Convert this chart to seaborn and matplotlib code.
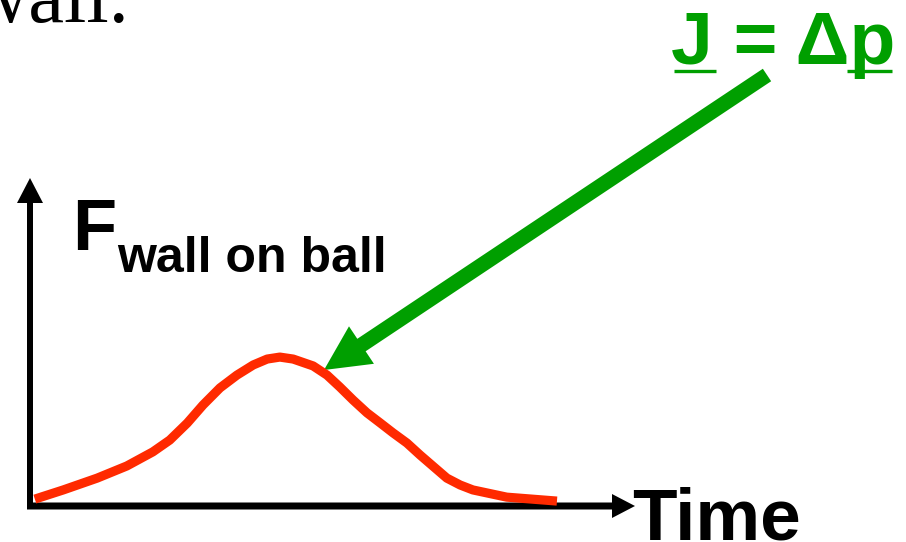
import matplotlib
matplotlib.use('Agg')
import matplotlib.pyplot as plt
import seaborn as sns

# impulse sketch: force of wall on ball over time
time = [0.08, 0.55, 1.11, 1.60, 2.03, 2.31, 2.60, 2.86, 3.14, 3.42, 3.69,
        3.92, 4.13, 4.35, 4.68, 4.91, 5.12, 5.34, 5.57, 5.79, 6.00, 6.23,
        6.45, 6.89, 7.11, 7.32, 7.88, 8.71]
force = [0.21, 0.49, 0.85, 1.22, 1.65, 2.01, 2.53, 3.08, 3.60, 3.99, 4.30,
         4.48, 4.54, 4.48, 4.27, 3.99, 3.63, 3.23, 2.84, 2.53, 2.23, 1.92,
         1.55, 0.85, 0.64, 0.49, 0.27, 0.15]

x_label = 'Time'
y_main = 'F'
y_sub = 'wall on ball'
impulse_label = 'J = \u0394p'
slide_text = 'wall.'

sns.set_style('white')
plt.rcParams['font.family'] = ['Liberation Sans', 'DejaVu Sans']
plt.rcParams['text.color'] = 'black'

green = '#009f00'
red = '#ff2a00'

fig = plt.figure(figsize=(9.06, 5.42), dpi=100)

# overlay in pixel units for the annotation bits
ov = fig.add_axes([0, 0, 1, 1])
ov.set_xlim(0, 906)
ov.set_ylim(542, 0)
ov.axis('off')

# plot area, origin of the arrows at (30, 506) px
ax = fig.add_axes([30 / 906, 36 / 542, 605 / 906, 328 / 542])
ax.set_xlim(0, 10)
ax.set_ylim(0, 10)
ax.axis('off')
ax.patch.set_alpha(0)

sns.lineplot(x=time, y=force, ax=ax, color=red, linewidth=6.6, sort=False)
for ln in ax.get_lines():
    ln.set_solid_capstyle('butt')
    ln.set_solid_joinstyle('round')

# axis arrows
ov.arrow(30, 509, 0, -331, width=6, head_width=26, head_length=25,
         length_includes_head=True, color='black', lw=0)
ov.arrow(27, 506, 608, 0, width=7, head_width=24, head_length=23,
         length_includes_head=True, color='black', lw=0)

# green impulse arrow
ov.arrow(767, 75, -443, 295, width=15, head_width=45, head_length=45,
         length_includes_head=True, color=green, lw=0)

# labels
ov.text(-29, 22, slide_text, family='Liberation Serif', fontsize=58,
        color='black', va='baseline', ha='left')
ov.text(72, 250, y_main, fontsize=52, fontweight='bold', color='black',
        va='baseline', ha='left')
ov.text(117, 272, y_sub, fontsize=36, fontweight='bold', color='black',
        va='baseline', ha='left')
ov.text(632, 540, x_label, fontsize=52.5, fontweight='bold', color='black',
        va='baseline', ha='left')
ov.text(671, 64, impulse_label, fontsize=54, fontweight='bold', color=green,
        va='baseline', ha='left')
ov.plot([674, 716], [70.5, 70.5], color=green, lw=2.4, solid_capstyle='butt')
ov.plot([847, 892], [70.5, 70.5], color=green, lw=2.4, solid_capstyle='butt')

fig.savefig('out.png', dpi=100)
